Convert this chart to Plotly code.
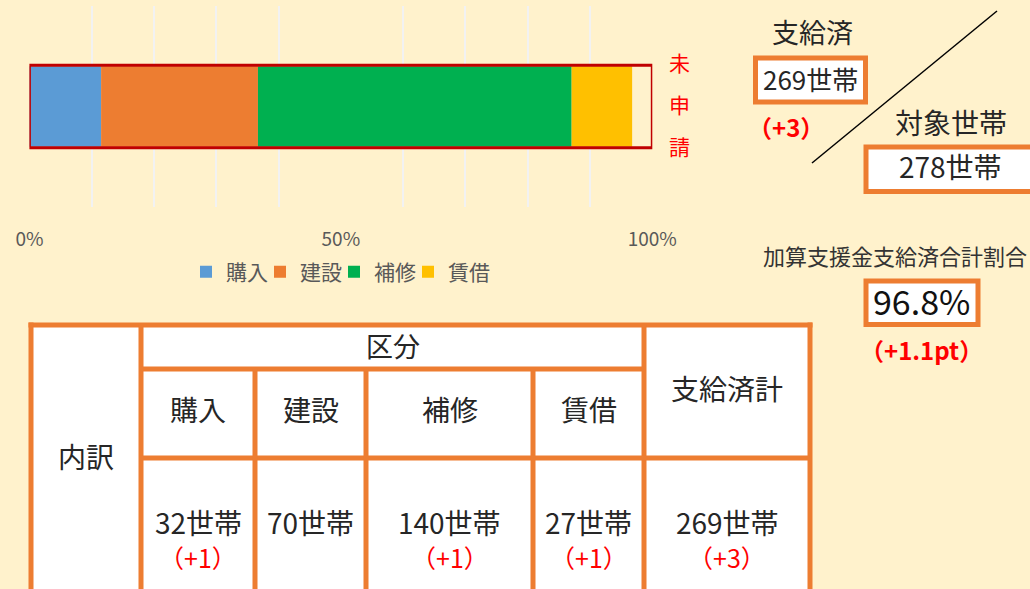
import plotly.graph_objects as go

# ---------------- data ----------------
categories = ["購入", "建設", "補修", "賃借"]
households = [32, 70, 140, 27]
increase = [1, 0, 1, 1]
colors = ["#5B9BD5", "#ED7D31", "#00B050", "#FFC000"]
target_households = 278
paid_total = 269
paid_increase = 3
paid_ratio = 96.8
ratio_increase = 1.1
x_ticks = [0, 0.5, 1.0]
x_tick_labels = ["0%", "50%", "100%"]
grid_vals = [0.1, 0.2, 0.3, 0.4, 0.6, 0.7, 0.8, 0.9]
unapplied_label = "未申請"

# ---------------- helpers ----------------
W, H = 1030, 589
FONT = "Noto Sans CJK JP, Noto Sans, sans-serif"
ORANGE = "#ED7D31"
RED = "#FF0000"
DARK = "#262626"


def px(x):
    return x / W


def py(y):
    return 1 - y / H


annotations = []
shapes = []


def text(x, y, s, size, color=DARK):
    annotations.append(dict(x=px(x), y=py(y - 2), xref="paper", yref="paper", text=s,
                            showarrow=False, xanchor="center", yanchor="middle",
                            font=dict(family=FONT, size=size, color=color)))


def rect(x0, y0, x1, y1, line_color=ORANGE, width=5, fill="white"):
    shapes.append(dict(type="rect", xref="paper", yref="paper", x0=px(x0), x1=px(x1),
                       y0=py(y1), y1=py(y0), line=dict(color=line_color, width=width),
                       fillcolor=fill, layer="below"))


def line(x0, y0, x1, y1, color=ORANGE, width=5):
    shapes.append(dict(type="line", xref="paper", yref="paper", x0=px(x0), x1=px(x1),
                       y0=py(y0), y1=py(y1), line=dict(color=color, width=width),
                       layer="above"))


# ---------------- bar chart ----------------
fig = go.Figure()
base = 0.0
for cat, h, c in zip(categories, households, colors):
    share = h / target_households
    fig.add_trace(go.Bar(y=[0], x=[share], base=[base], orientation="h", name=cat,
                         marker=dict(color=c, line=dict(width=0)), width=0.40,
                         hoverinfo="skip"))
    base += share

fig.add_trace(go.Bar(y=[0], x=[target_households / target_households], base=[0],
                     orientation="h", showlegend=False, name=unapplied_label,
                     marker=dict(color="rgba(0,0,0,0)", line=dict(color="#C00000", width=3)),
                     width=0.41, hoverinfo="skip"))

# invisible spacer legend entry so the last legend label is not clipped
fig.add_trace(go.Bar(y=[None], x=[None], orientation="h", name=" ", showlegend=True,
                     marker=dict(color="rgba(0,0,0,0)", line=dict(width=0)),
                     hoverinfo="skip"))

# 未申請 vertical label
for i, ch in enumerate(unapplied_label):
    text(679, 64 + 42 * i, ch, 21, RED)

# ---------------- right panel ----------------
text(812, 34, "支給済", 27)
rect(755.5, 58, 865.5, 102)
text(810, 80, f"{paid_total}世帯", 26)
text(786, 128, f"<b>（+{paid_increase}）</b>", 24, RED)
line(812, 163, 997, 11, color="#000000", width=1.5)
text(951, 124, "対象世帯", 28)
rect(866, 147, 1045, 191.5)
text(950, 168, f"{target_households}世帯", 28)
text(895, 257, "加算支援金支給済合計割合", 22, "#333333")
rect(866, 281, 978, 324.5)
text(921, 302, f"{paid_ratio:.1f}%", 34, "#111111")
text(921, 351, f"<b>（+{ratio_increase:.1f}pt）</b>", 24, RED)

# ---------------- table ----------------
col_edges = [31, 141, 255, 366, 533, 644, 810]
y_top, y_mid1, y_mid2, y_bot = 325, 369, 458, 620
rect(31, y_top, 810, y_bot, line_color="rgba(0,0,0,0)", width=0)
line(28.5, y_top, 812.5, y_top)
line(col_edges[0], y_top - 2.5, col_edges[0], y_bot)
line(col_edges[-1], y_top - 2.5, col_edges[-1], y_bot)
line(col_edges[1], y_top, col_edges[1], y_bot)
line(col_edges[5], y_top, col_edges[5], y_bot)
line(col_edges[1], y_mid1, col_edges[5], y_mid1)
line(col_edges[1], y_mid2, col_edges[6], y_mid2)
for xe in col_edges[2:5]:
    line(xe, y_mid1, xe, y_bot)

text((col_edges[0] + col_edges[1]) / 2, 458, "内訳", 28)
text((col_edges[1] + col_edges[5]) / 2, 347, "区分", 27)
text((col_edges[5] + col_edges[6]) / 2, 390, "支給済計", 28)
for i, cat in enumerate(categories):
    cx = (col_edges[i + 1] + col_edges[i + 2]) / 2
    text(cx, 411, cat, 28)
    text(cx, 524, f"{households[i]}世帯", 28)
    if increase[i]:
        text(cx, 559, f"（+{increase[i]}）", 25, RED)
cx = (col_edges[5] + col_edges[6]) / 2
text(cx, 524, f"{paid_total}世帯", 28)
text(cx, 559, f"（+{paid_increase}）", 25, RED)

# ---------------- layout ----------------
fig.update_layout(
    width=W, height=H,
    margin=dict(l=0, r=0, t=0, b=0, pad=0, autoexpand=False),
    paper_bgcolor="#FFF2CC",
    plot_bgcolor="rgba(0,0,0,0)",
    barmode="overlay",
    showlegend=True,
    legend=dict(orientation="h", x=px(186), xanchor="left", y=py(272), yanchor="middle",
                font=dict(family=FONT, size=21, color="#595959"),
                bgcolor="rgba(0,0,0,0)", traceorder="normal", itemclick=False,
                entrywidth=29, entrywidthmode="pixels"),
    xaxis=dict(domain=[px(29.4), px(652.3)], range=[0, 1], tickvals=x_ticks,
               ticktext=x_tick_labels, showgrid=False, zeroline=False, showline=False,
               automargin=False,
               ticks="", tickfont=dict(family=FONT, size=19, color="#595959"),
               ticklabelstandoff=19,
               minor=dict(tickvals=grid_vals, showgrid=True, gridcolor="#F2F2F2",
                          gridwidth=2, ticks="")),
    yaxis=dict(domain=[py(207), py(6)], range=[-0.5, 0.5], visible=False,
               automargin=False, fixedrange=True),
    annotations=annotations,
    shapes=shapes,
    font=dict(family=FONT),
)

fig.write_html("out.html", config={"displayModeBar": False},
               post_script="document.body.style.margin='0';document.body.style.overflow='hidden';")
